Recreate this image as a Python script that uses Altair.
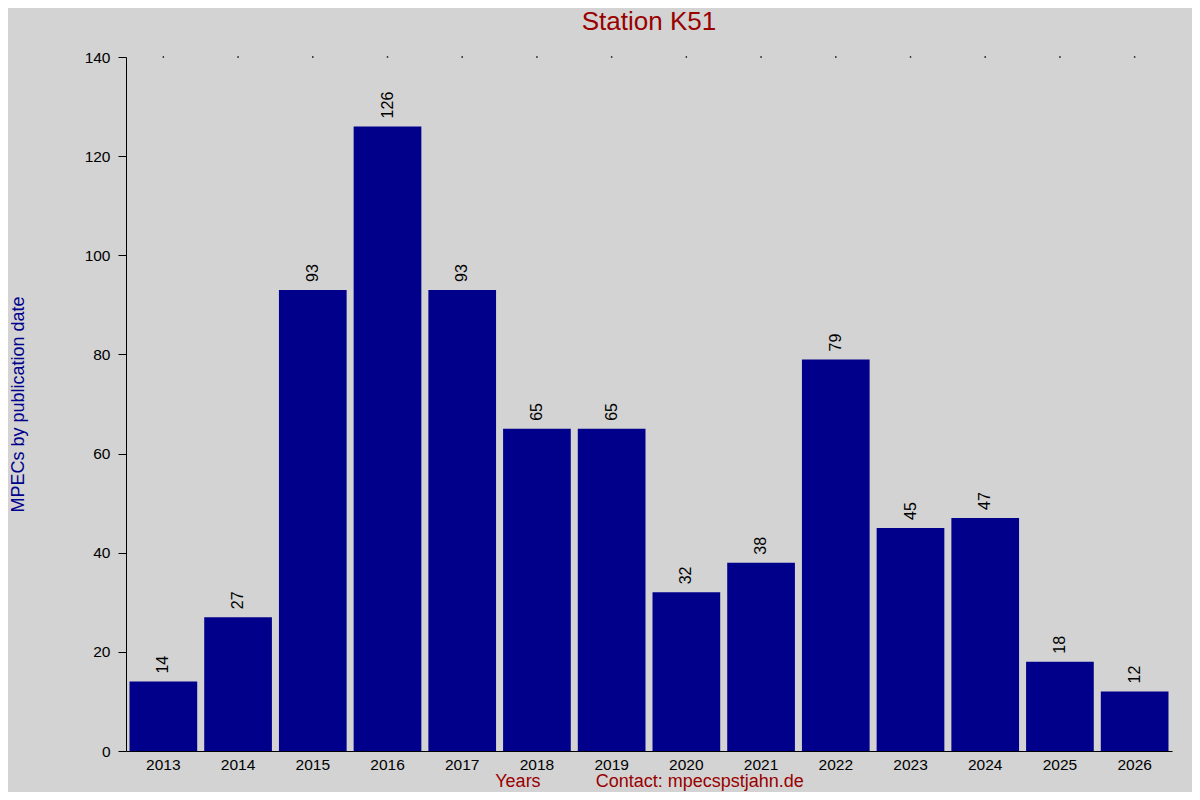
import altair as alt
import pandas as pd

years = ["2013", "2014", "2015", "2016", "2017", "2018", "2019",
         "2020", "2021", "2022", "2023", "2024", "2025", "2026"]
counts = [14, 27, 93, 126, 93, 65, 65, 32, 38, 79, 45, 47, 18, 12]
y_max = 140

df = pd.DataFrame({"year": years, "count": counts, "top": [y_max] * len(years)})

FONT = "Liberation Sans"
BLUE = "#00008b"
RED = "#990000"

xscale = alt.Scale(paddingInner=0.094, paddingOuter=0.047)
yscale = alt.Scale(domain=[0, y_max], nice=False)

x_title = "Years" + "\u00a0" * 11 + "Contact: mpecspstjahn.de"

base = alt.Chart(df)

bars = base.mark_bar(color=BLUE).encode(
    x=alt.X("year:N", scale=xscale, sort=None,
            axis=alt.Axis(title=x_title, labelAngle=0, ticks=False,
                          domainColor="black", labelColor="black",
                          labelFontSize=15.5, labelFont=FONT, labelPadding=6,
                          titleColor=RED, titleFont=FONT, titleFontSize=18,
                          titleFontWeight="normal", titlePadding=0)),
    y=alt.Y("count:Q", scale=yscale,
            axis=alt.Axis(title="MPECs by publication date", values=list(range(0, 141, 20)),
                          grid=False, tickSize=8, tickColor="black",
                          domainColor="black", labelColor="black",
                          labelFontSize=15.5, labelFont=FONT, labelPadding=8,
                          titleColor=BLUE, titleFont=FONT, titleFontSize=18,
                          titleFontWeight="normal", titlePadding=57)),
)

labels = base.mark_text(angle=270, align="left", baseline="middle", dx=8,
                        fontSize=16, font=FONT, color="black").encode(
    x=alt.X("year:N", scale=xscale, sort=None),
    y=alt.Y("count:Q", scale=yscale),
    text="count:Q",
)

dots = base.mark_square(size=2, color="black", filled=True, opacity=1).encode(
    x=alt.X("year:N", scale=xscale, sort=None),
    y=alt.Y("top:Q", scale=yscale),
)

chart = alt.layer(bars, labels, dots).properties(
    width=1046,
    height=694,
    background="#d3d3d3",
    padding={"left": 118, "top": 49, "right": 20, "bottom": 41},
    autosize=alt.AutoSizeParams(type="none"),
    title=alt.Title("Station K51", color=RED, font=FONT, fontSize=26,
                    fontWeight="normal", anchor="middle", offset=15, frame="group"),
).configure_view(stroke=None, fill="#d3d3d3")

chart.save("out.html", embed_options={"renderer": "svg", "actions": False})
